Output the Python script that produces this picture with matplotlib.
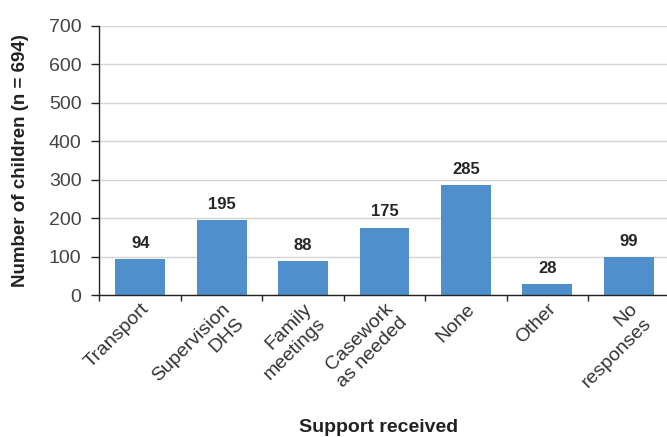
import matplotlib
matplotlib.use("Agg")
import matplotlib.pyplot as plt

plt.rcParams['font.family'] = ['Liberation Sans', 'DejaVu Sans']

categories = ["Transport", "Supervision\nDHS", "Family\nmeetings", "Casework\nas needed",
              "None", "Other", "No\nresponses"]
counts = [94, 195, 88, 175, 285, 28, 99]
y_ticks = [0, 100, 200, 300, 400, 500, 600, 700]

W, H = 667, 437
fig = plt.figure(figsize=(W / 100, H / 100), dpi=100)
# axis frame runs just past the right edge of the figure
left, right = 99.5 / W, 669.5 / W
bottom, top = (H - 295) / H, (H - 26) / H
ax = fig.add_axes([left, bottom, right - left, top - bottom])

x = list(range(len(categories)))
bar_color = "#4F8FCC"
ax.bar(x, counts, width=0.614, color=bar_color, zorder=2)

for xi, v in zip(x, counts):
    ax.annotate(str(v), (xi, v), xytext=(0, 6), textcoords="offset points",
                ha="center", va="bottom", fontsize=12, fontweight="bold",
                color="#262626")

ax.set_xlim(-0.5, len(categories) - 0.5)
ax.set_ylim(0, 700)
ax.set_yticks(y_ticks)
ax.set_yticklabels([str(t) for t in y_ticks], fontsize=14, color="#444444")
ax.yaxis.grid(True, color="#d4d4d4", linewidth=1.0, zorder=0)
ax.set_axisbelow(True)

# category boundaries carry the tick marks
ax.set_xticks([i - 0.5 for i in x])
ax.set_xticklabels([])
ax.set_xticks(x, minor=True)
ax.set_xticklabels(categories, minor=True, rotation=45, ha="right",
                   rotation_mode="anchor", multialignment="right",
                   fontsize=14, color="#333333")
ax.tick_params(axis="x", which="minor", length=0, pad=4)
ax.tick_params(axis="x", which="major", length=4.5, width=1, color="#222222", direction="out")
ax.tick_params(axis="y", length=6, width=1, color="#222222", pad=7)

for s in ["top", "right"]:
    ax.spines[s].set_visible(False)
for s in ["left", "bottom"]:
    ax.spines[s].set_color("#222222")
    ax.spines[s].set_linewidth(1.0)

ax.set_ylabel("Number of children (n = 694)", fontsize=13.5, fontweight="bold",
              color="#222222")
ax.yaxis.set_label_coords((29 - 99.5) / (669.5 - 99.5), 0.5)
fig.text(379 / W, 1 - 428 / H, "Support received", ha="center", va="center",
         fontsize=14, fontweight="bold", color="#222222")

fig.savefig("out.png", dpi=100)
